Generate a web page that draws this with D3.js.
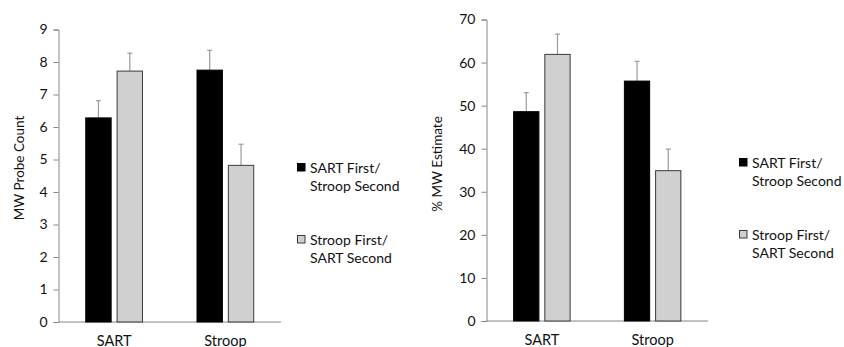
<!DOCTYPE html>
<html>
<head>
<meta charset="utf-8">
<script src="https://cdn.jsdelivr.net/npm/d3@7"></script>
<style>
  body { margin: 0; background: #fff; }
  svg text { font-family: Lato, "Open Sans", sans-serif; fill: #111; }
</style>
</head>
<body>
<svg id="chart" width="844" height="347"></svg>
<script>
// data
var tasks = ["SART", "Stroop"];
var orders = ["SART First/Stroop Second", "Stroop First/SART Second"];
var legendLines = [["SART First/", "Stroop Second"], ["Stroop First/", "SART Second"]];

// left panel: MW probe count
var probeMeans = [[6.28, 7.72], [7.75, 4.82]];   // [task][order]
var probeErrs  = [[0.53, 0.55], [0.61, 0.65]];
var probeTicks = [0, 1, 2, 3, 4, 5, 6, 7, 8, 9];

// right panel: % MW estimate
var estMeans = [[48.6, 61.9], [55.7, 34.9]];
var estErrs  = [[4.4, 4.7], [4.6, 5.0]];
var estTicks = [0, 10, 20, 30, 40, 50, 60, 70];

var fills = ["#000000", "#d0d0d0"];
var strokes = ["#000000", "#3a3a3a"];

var svg = d3.select("#chart");

// Draws one bar panel
var drawPanel = function(opts) {
    var g = svg.append("g");

    var x = d3.scaleBand()
        .domain(tasks)
        .range([opts.left, opts.right])
        .paddingInner(0.49)
        .paddingOuter(0.245);
    var xs = d3.scaleBand()
        .domain(d3.range(orders.length))
        .range([0, x.bandwidth()])
        .paddingInner(0.19);
    var y = d3.scaleLinear()
        .domain([0, opts.max])
        .range([opts.bottom, opts.top]);

    // y axis
    var yAxis = g.append("g")
        .attr("transform", "translate(" + opts.left + ",0)")
        .call(d3.axisLeft(y).tickValues(opts.ticks).tickSize(5).tickPadding(6).tickFormat(d3.format("d")));
    yAxis.select(".domain").attr("stroke", "#868686");
    yAxis.selectAll(".tick line").attr("stroke", "#868686");
    yAxis.selectAll(".tick text")
        .style("font-size", "14px")
        .style("font-family", "Lato, sans-serif")
        .attr("fill", "#111");

    // x axis line
    g.append("line")
        .attr("x1", opts.left).attr("x2", opts.right)
        .attr("y1", y(0)).attr("y2", y(0))
        .attr("stroke", "#868686");

    var rows = [];
    tasks.forEach(function(t, i) {
        orders.forEach(function(o, j) {
            rows.push({task: t, k: j, mean: opts.means[i][j], err: opts.errs[i][j]});
        });
    });

    // error bars (upper only)
    var eb = g.selectAll("g.err").data(rows).enter().append("g").attr("class", "err");
    eb.append("line")
        .attr("x1", function(d) { return x(d.task) + xs(d.k) + xs.bandwidth() / 2; })
        .attr("x2", function(d) { return x(d.task) + xs(d.k) + xs.bandwidth() / 2; })
        .attr("y1", function(d) { return y(d.mean); })
        .attr("y2", function(d) { return y(d.mean + d.err); })
        .attr("stroke", "#9a9a9a").attr("stroke-width", 1.2);
    eb.append("line")
        .attr("x1", function(d) { return x(d.task) + xs(d.k) + xs.bandwidth() / 2 - 2.5; })
        .attr("x2", function(d) { return x(d.task) + xs(d.k) + xs.bandwidth() / 2 + 2.5; })
        .attr("y1", function(d) { return y(d.mean + d.err); })
        .attr("y2", function(d) { return y(d.mean + d.err); })
        .attr("stroke", "#9a9a9a").attr("stroke-width", 1.2);

    // bars
    g.selectAll("rect.bar").data(rows).enter().append("rect")
        .attr("class", "bar")
        .attr("x", function(d) { return x(d.task) + xs(d.k); })
        .attr("y", function(d) { return y(d.mean); })
        .attr("width", xs.bandwidth())
        .attr("height", function(d) { return y(0) - y(d.mean); })
        .attr("fill", function(d) { return fills[d.k]; })
        .attr("stroke", function(d) { return strokes[d.k]; })
        .attr("stroke-width", 1);

    // category labels
    g.selectAll("text.cat").data(tasks).enter().append("text")
        .attr("class", "cat")
        .attr("x", function(d) { return x(d) + x.bandwidth() / 2; })
        .attr("y", opts.bottom + 23.5)
        .attr("text-anchor", "middle")
        .style("font-size", "14.5px")
        .text(function(d) { return d; });

    // y title
    g.append("text")
        .attr("transform", "translate(" + opts.titleX + "," + opts.titleY + ") rotate(-90)")
        .attr("text-anchor", "middle")
        .style("font-size", "13.5px")
        .text(opts.title);

    // legend
    var leg = g.selectAll("g.leg").data(legendLines).enter().append("g")
        .attr("class", "leg")
        .attr("transform", function(d, i) { return "translate(" + opts.legX + "," + opts.legY[i] + ")"; });
    leg.append("rect")
        .attr("x", 0.5).attr("y", 0.5)
        .attr("width", 7.5).attr("height", 7.5)
        .attr("fill", function(d, i) { return fills[i]; })
        .attr("stroke", function(d, i) { return strokes[i]; });
    leg.each(function(d) {
        var t = d3.select(this);
        d.forEach(function(line, k) {
            t.append("text")
                .attr("x", 13)
                .attr("y", 9.5 + k * 18)
                .style("font-size", "14px")
                .text(line);
        });
    });
};

drawPanel({
    left: 58.5, right: 281, top: 29.5, bottom: 322, max: 9,
    ticks: probeTicks, means: probeMeans, errs: probeErrs,
    title: "MW Probe Count", titleX: 24, titleY: 168,
    legX: 297, legY: [163, 235]
});

drawPanel({
    left: 486.5, right: 708, top: 19.5, bottom: 321, max: 70,
    ticks: estTicks, means: estMeans, errs: estErrs,
    title: "% MW Estimate", titleX: 442, titleY: 164,
    legX: 739, legY: [158, 230]
});
</script>
</body>
</html>
